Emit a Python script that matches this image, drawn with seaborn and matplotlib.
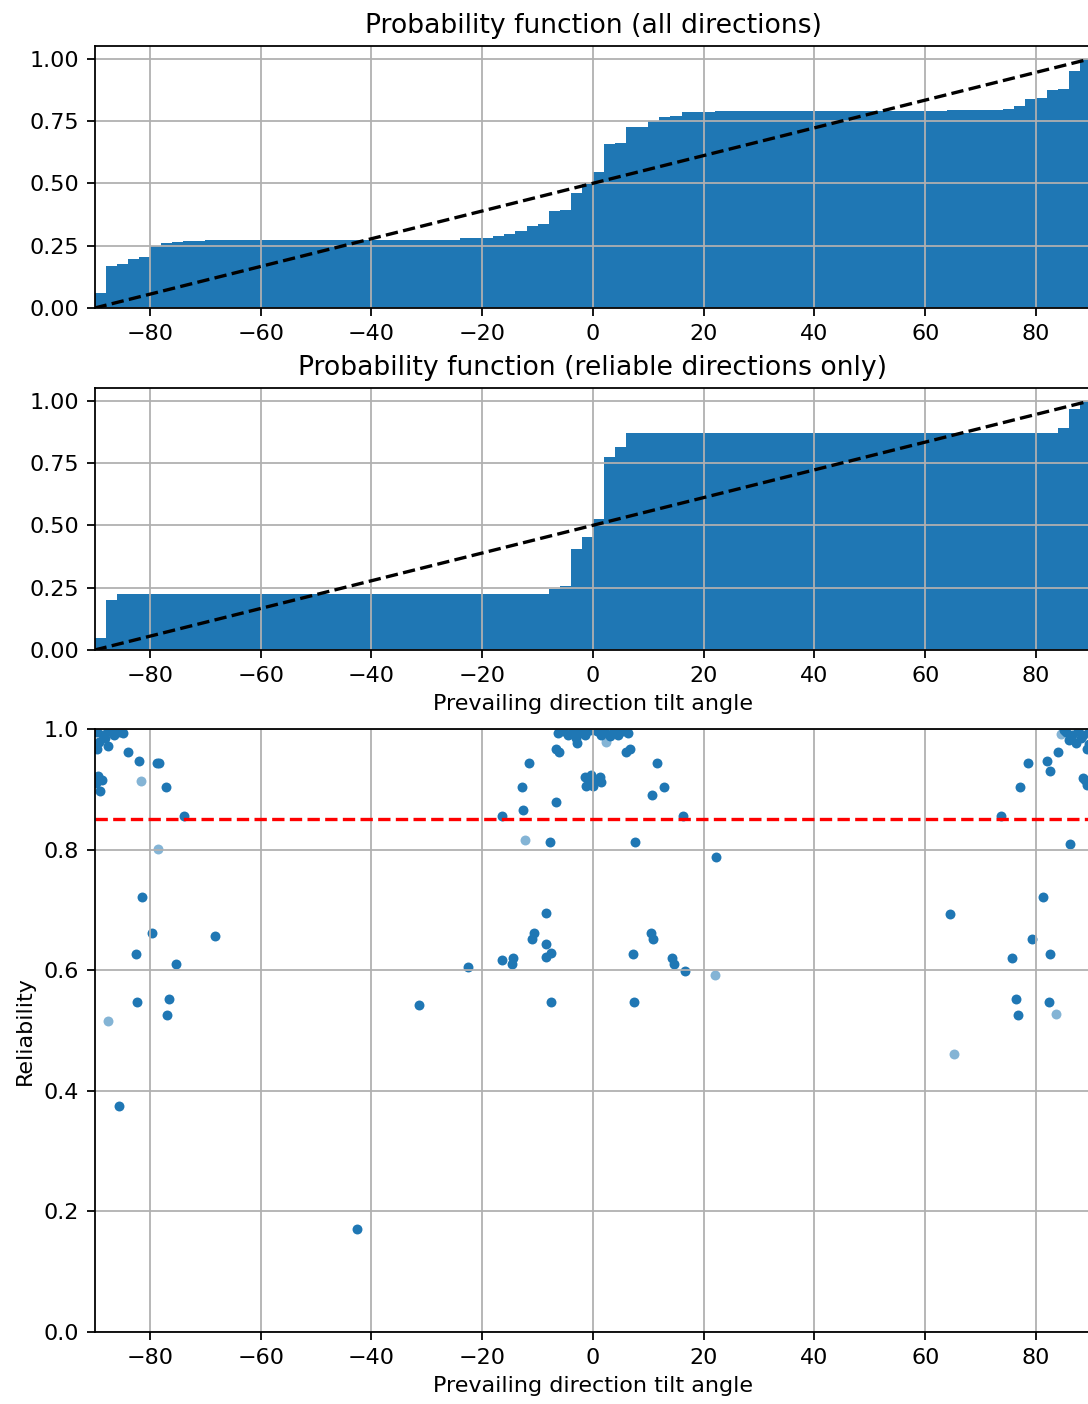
import numpy as np
import pandas as pd
import matplotlib
matplotlib.use('Agg')
import matplotlib.pyplot as plt
import seaborn as sns

# Cumulative probability (all directions): left bin edge where a step occurs, level after it.
all_step_angles = [-90, -88, -86, -84, -82, -80, -78, -76, -74, -70, -24, -18, -16, -14,
                   -12, -10, -8, -6, -4, -2, 0, 2, 4, 6, 10, 12, 14, 16, 22, 64, 74,
                   76, 78, 80, 82, 84, 86, 88]
all_levels = [0.061, 0.169, 0.177, 0.196, 0.205, 0.250, 0.261, 0.265, 0.269, 0.273,
              0.280, 0.288, 0.298, 0.307, 0.327, 0.336, 0.390, 0.394, 0.461, 0.498,
              0.545, 0.656, 0.663, 0.726, 0.750, 0.764, 0.770, 0.784, 0.790, 0.794,
              0.799, 0.811, 0.837, 0.843, 0.874, 0.878, 0.952, 1.0]

# Cumulative probability (reliable directions only).
rel_step_angles = [-90, -88, -86, -8, -6, -4, -2, 0, 2, 4, 6, 84, 86, 88]
rel_levels = [0.049, 0.200, 0.224, 0.243, 0.256, 0.407, 0.452, 0.524, 0.775, 0.812,
              0.871, 0.888, 0.965, 1.0]

# Reliability scatter, solid points.
solid_angle = [-89.5, -88.5, -87.5, -86.5, -85.5, -84.8, -89.2, -88.2, -87.5, -89.6, -86.2,
               -83.9, -82.0, -78.7, -78.3, -77.1,
               -89.3, -88.7, -89.7, -89.0,
               -73.8, -81.5, -79.6, -68.2, -82.6, -75.3, -82.4, -76.5, -76.9, -85.6,
               -42.6, -31.4, -22.6,
               -16.4, -12.9, -12.6, -11.6, -7.8, -6.6, -6.7, -6.1, -6.4, -2.9,
               -8.5, -10.6, -11.0, -8.4, -7.5, -8.4, -16.4, -14.4, -14.7, -7.6,
               -5.5, -4.5, -3.8, -3.0, -2.5, -2.0, -1.5, -1.0, -0.5, 0.0, 0.8, 1.5,
               2.2, 3.0, 3.8, 4.5, 5.5,
               -1.5, -0.8, -0.3, 0.5, 1.2, 0.0, 1.5, -1.2,
               6.4, 6.6, 6.0, 11.5, 12.8, 10.7, 16.3, 7.6, 22.3,
               10.4, 10.8, 7.3, 14.3, 14.6, 16.7, 7.5,
               83.9, 81.9, 78.6, 82.5, 77.1, 88.8, 89.2, 88.5, 73.7, 86.2, 64.4, 81.3,
               79.2, 75.7, 82.5, 76.3, 76.7, 82.3,
               85.5, 86.5, 87.5, 88.5, 89.5, 86.0, 87.3, 88.2, 89.2, 89.6, 85.0]
solid_rel = [0.995, 0.990, 0.996, 0.990, 0.995, 0.993, 0.978, 0.985, 0.972, 0.966, 0.998,
             0.961, 0.947, 0.943, 0.943, 0.903,
             0.922, 0.915, 0.910, 0.897,
             0.856, 0.722, 0.661, 0.657, 0.627, 0.610, 0.547, 0.552, 0.525, 0.375,
             0.171, 0.542, 0.605,
             0.856, 0.903, 0.866, 0.943, 0.813, 0.879, 0.967, 0.961, 0.994, 0.976,
             0.694, 0.662, 0.652, 0.643, 0.628, 0.622, 0.617, 0.620, 0.610, 0.547,
             0.997, 0.990, 0.995, 0.985, 0.993, 0.998, 0.990, 0.996, 0.999, 1.0, 0.997, 0.990,
             0.995, 0.988, 0.996, 0.990, 0.997,
             0.920, 0.910, 0.924, 0.915, 0.920, 0.905, 0.912, 0.905,
             0.994, 0.967, 0.961, 0.943, 0.903, 0.891, 0.856, 0.813, 0.787,
             0.661, 0.652, 0.627, 0.620, 0.610, 0.598, 0.547,
             0.961, 0.947, 0.943, 0.931, 0.903, 0.915, 0.907, 0.918, 0.856, 0.810, 0.693, 0.722,
             0.652, 0.620, 0.627, 0.552, 0.525, 0.547,
             0.995, 0.990, 0.997, 0.990, 0.995, 0.982, 0.976, 0.985, 0.967, 0.975, 0.998]

# Reliability scatter, faint points.
faint_angle = [-81.6, -78.6, -87.5, -12.2, 2.4, 22.0, 65.2, 83.6, 84.6]
faint_rel = [0.914, 0.801, 0.516, 0.816, 0.978, 0.592, 0.461, 0.528, 0.992]

blue = '#1f77b4'
bins = list(range(-90, 92, 2))
dpi = 160

def _cumHist(ax, stepAngles, levels, title):
  '''
  Draws one cumulative probability histogram with the uniform reference line.
  '''
  df = pd.DataFrame({'angle': [a + 1 for a in stepAngles],
                     'w': np.diff([0] + levels)})
  sns.histplot(data=df, x='angle', weights='w', bins=bins, cumulative=True, stat='count',
               element='bars', fill=True, color=blue, alpha=1, linewidth=0, ax=ax)
  ax.plot([-90, 90], [0, 1], 'k--')
  ax.set_xlim(-90, 90)
  ax.set_ylim(0, 1.05)
  ax.set_yticks([0, 0.25, 0.5, 0.75, 1.0])
  ax.set_xticks(range(-80, 81, 20))
  ax.set_ylabel('')
  ax.set_xlabel('')
  ax.set_title(title)
  ax.grid(True)

# Get plot.
fig = plt.figure(figsize=(1088 / dpi, 1404 / dpi), dpi=dpi)
left, width = 0.0869, 0.9162
ax1 = fig.add_axes([left, 0.7806, width, 0.1866])
ax2 = fig.add_axes([left, 0.5370, width, 0.1866])
ax3 = fig.add_axes([left, 0.0513, width, 0.4295])

_cumHist(ax1, all_step_angles, all_levels, 'Probability function (all directions)')
_cumHist(ax2, rel_step_angles, rel_levels, 'Probability function (reliable directions only)')
ax2.set_xlabel('Prevailing direction tilt angle')

# Reliability scatter.
sns.scatterplot(x=solid_angle, y=solid_rel, s=20, linewidth=0, color=blue, alpha=1, ax=ax3)
sns.scatterplot(x=faint_angle, y=faint_rel, s=20, linewidth=0, color=blue, alpha=0.55, ax=ax3)
ax3.axhline(0.85, color='r', linestyle='--')
ax3.set_xlim(-90, 90)
ax3.set_ylim(0, 1)
ax3.set_xticks(range(-80, 81, 20))
ax3.set_xlabel('Prevailing direction tilt angle')
ax3.set_ylabel('Reliability')
ax3.grid(True)

fig.savefig('out.png', dpi=dpi)
